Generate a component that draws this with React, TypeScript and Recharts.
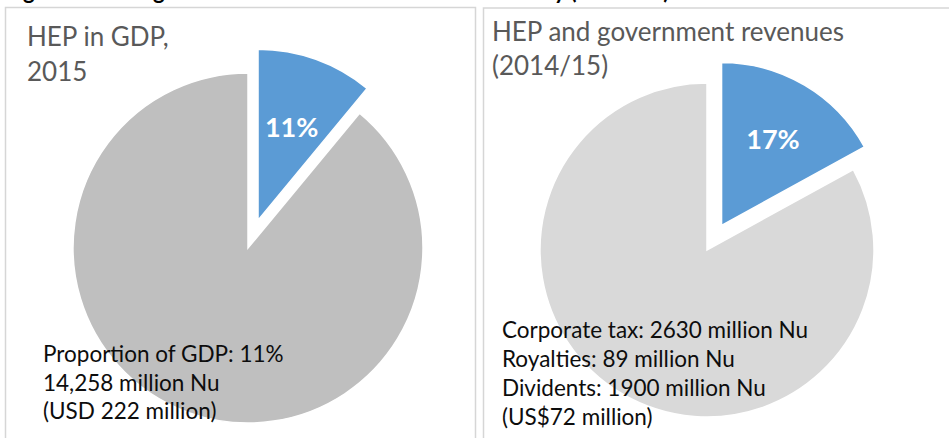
import React from 'react';
import { PieChart, Pie, Cell } from 'recharts';

const gdpShares = [
  { name: 'HEP', value: 11 },
  { name: 'Rest of economy', value: 89 },
];
const revenueShares = [
  { name: 'HEP', value: 17 },
  { name: 'Other revenues', value: 83 },
];
const gdpTitle = ['HEP in GDP,', '2015'];
const gdpNotes = ['Proportion of GDP: 11%', '14,258 million Nu', '(USD 222 million)'];
const revenueTitle = ['HEP and government revenues', '(2014/15)'];
const revenueNotes = [
  'Corporate tax: 2630 million Nu',
  'Royalties: 89 million Nu',
  'Dividents: 1900 million Nu',
  '(US$72 million)',
];
const caption = 'Figure 4: The significance of HEP in the national economy (2014/15)';

const BLUE = '#5B9BD5';
const FONT = 'Lato, "Open Sans", sans-serif';
const RAD = Math.PI / 180;

function explode(data: { value: number }[], dist: number) {
  const total = data.reduce((s, d) => s + d.value, 0);
  const frac = data[0].value / total;
  const mid = (90 - frac * 180) * RAD;
  return { dx: Math.cos(mid) * dist, dy: -Math.sin(mid) * dist };
}

const makeLabel = (ratio: number) => (p: any) => {
  if (p.index !== 0) return null;
  const r = p.outerRadius * ratio;
  const x = p.cx + Math.cos(-p.midAngle * RAD) * r;
  const y = p.cy + Math.sin(-p.midAngle * RAD) * r;
  return (
    <text
      x={x}
      y={y}
      fill="#ffffff"
      fontFamily={FONT}
      fontWeight={700}
      fontSize={27}
      textAnchor="middle"
      dominantBaseline="central"
    >
      {`${p.value}%`}
    </text>
  );
};

const L = { cx: 248, cy: 248, r: 175, br: 171, d: 29.6, grey: '#BFBFBF' };
const R = { cx: 707, cy: 250, r: 167, br: 163, d: 28.6, grey: '#D9D9D9' };
const lOff = explode(gdpShares, L.d);
const rOff = explode(revenueShares, R.d);

export default function App() {
  return (
    <div style={{ position: 'absolute', left: 0, top: 0, width: 949, height: 438, background: '#fff', overflow: 'hidden' }}>
      <div style={{ position: 'absolute', left: 0, top: 0 }}>
        <PieChart width={949} height={438} margin={{ top: 0, right: 0, bottom: 0, left: 0 }}>
          <Pie data={gdpShares} dataKey="value" cx={L.cx} cy={L.cy} outerRadius={L.r} startAngle={90} endAngle={-270} isAnimationActive={false} labelLine={false}>
            <Cell fill="transparent" stroke="none" />
            <Cell fill={L.grey} stroke="#fff" strokeWidth={1.5} />
          </Pie>
          <Pie data={gdpShares} dataKey="value" cx={L.cx + lOff.dx} cy={L.cy + lOff.dy} outerRadius={L.br} startAngle={90} endAngle={-270} isAnimationActive={false} labelLine={false} label={makeLabel(0.58)}>
            <Cell fill={BLUE} stroke="#fff" strokeWidth={1.5} />
            <Cell fill="transparent" stroke="none" />
          </Pie>

          <Pie data={revenueShares} dataKey="value" cx={R.cx} cy={R.cy} outerRadius={R.r} startAngle={90} endAngle={-270} isAnimationActive={false} labelLine={false}>
            <Cell fill="transparent" stroke="none" />
            <Cell fill={R.grey} stroke="#fff" strokeWidth={1.5} />
          </Pie>
          <Pie data={revenueShares} dataKey="value" cx={R.cx + rOff.dx} cy={R.cy + rOff.dy} outerRadius={R.br} startAngle={90} endAngle={-270} isAnimationActive={false} labelLine={false} label={makeLabel(0.62)}>
            <Cell fill={BLUE} stroke="#fff" strokeWidth={1.5} />
            <Cell fill="transparent" stroke="none" />
          </Pie>
        </PieChart>
      </div>
      <svg width={949} height={438} style={{ position: 'absolute', left: 0, top: 0, pointerEvents: 'none' }}>
        <rect x={5.5} y={7.5} width={470} height={440} fill="none" stroke="#D6D6D6" strokeWidth={1.5} />
        <rect x={483.5} y={8} width={480} height={440} fill="none" stroke="#D6D6D6" strokeWidth={1.5} />
        <text x={5} y={-1} fontFamily={FONT} fontWeight={700} fontSize={22} fill="#000">{caption}</text>
        <text fontFamily={FONT} fontSize={26} fill="#595959">
          {gdpTitle.map((t, i) => (
            <tspan key={i} x={27} y={46 + i * 35}>{t}</tspan>
          ))}
        </text>
        <text fontFamily={FONT} fontSize={26} fill="#595959">
          {revenueTitle.map((t, i) => (
            <tspan key={i} x={492} y={41 + i * 34}>{t}</tspan>
          ))}
        </text>
        <text fontFamily={FONT} fontSize={22.5} fill="#0D0D0D">
          {gdpNotes.map((t, i) => (
            <tspan key={i} x={43} y={362 + i * 28.5}>{t}</tspan>
          ))}
        </text>
        <text fontFamily={FONT} fontSize={22.5} fill="#0D0D0D">
          {revenueNotes.map((t, i) => (
            <tspan key={i} x={502} y={338 + i * 29}>{t}</tspan>
          ))}
        </text>
      </svg>
    </div>
  );
}
